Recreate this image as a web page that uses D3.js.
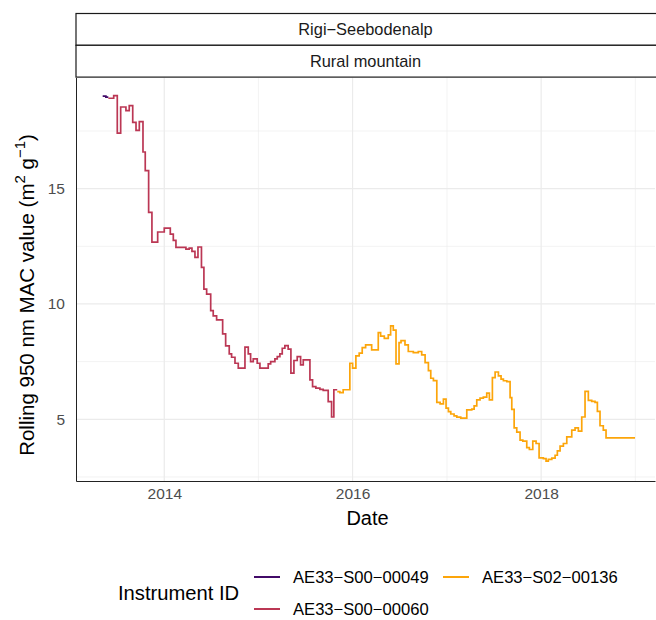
<!DOCTYPE html>
<html><head><meta charset="utf-8">
<script src="https://cdn.jsdelivr.net/npm/d3@7"></script>
<style>body{margin:0;background:#fff}svg{display:block;font-family:"Liberation Sans",Arial,sans-serif}</style>
</head><body><svg id="c" width="656" height="620"></svg>
<script>
// ---- data (decimal year of step start, value) ----
const s49Years = [2013.346, 2013.380];
const s49Values = [19.01, 18.97];
const s49End = 2013.406;

const s60Years = [2013.406,2013.463,2013.501,2013.537,2013.593,2013.628,2013.665,2013.700,2013.735,2013.774,2013.798,2013.834,2013.869,2013.930,2014.000,2014.064,2014.096,2014.124,2014.230,2014.265,2014.294,2014.326,2014.358,2014.395,2014.421,2014.450,2014.493,2014.520,2014.556,2014.620,2014.652,2014.690,2014.715,2014.751,2014.786,2014.857,2014.892,2014.917,2014.945,2014.987,2015.016,2015.104,2015.130,2015.175,2015.200,2015.228,2015.253,2015.281,2015.316,2015.345,2015.377,2015.412,2015.448,2015.476,2015.547,2015.575,2015.610,2015.653,2015.688,2015.741,2015.777,2015.801];
const s60Values = [18.92,19.03,17.41,18.54,18.38,18.60,17.87,17.53,17.91,16.59,15.78,13.97,12.68,13.12,13.29,13.03,12.76,12.45,12.38,12.42,12.28,12.02,12.47,11.59,10.64,10.43,9.71,9.48,9.31,8.70,8.18,7.84,7.69,7.43,7.22,8.13,7.84,7.50,7.62,7.43,7.22,7.40,7.50,7.62,7.72,7.84,8.08,8.19,8.04,7.00,7.55,7.72,7.36,7.58,6.71,6.42,6.35,6.30,6.25,5.77,5.10,6.28];
const s60End = 2015.837;

const s136Years = [2015.837,2015.865,2015.900,2015.971,2016.000,2016.035,2016.070,2016.102,2016.138,2016.202,2016.272,2016.297,2016.336,2016.378,2016.403,2016.431,2016.460,2016.492,2016.513,2016.555,2016.590,2016.643,2016.696,2016.732,2016.768,2016.803,2016.828,2016.856,2016.892,2016.927,2016.962,2016.990,2017.015,2017.040,2017.075,2017.104,2017.146,2017.210,2017.263,2017.288,2017.316,2017.351,2017.386,2017.422,2017.450,2017.482,2017.511,2017.546,2017.574,2017.599,2017.635,2017.670,2017.688,2017.713,2017.741,2017.776,2017.805,2017.847,2017.875,2017.911,2017.946,2017.978,2018.023,2018.052,2018.076,2018.113,2018.148,2018.172,2018.201,2018.236,2018.272,2018.325,2018.360,2018.395,2018.431,2018.466,2018.501,2018.537,2018.572,2018.597,2018.625,2018.660,2018.689];
const s136Values = [6.20,6.16,6.28,7.43,7.22,7.75,7.87,8.11,8.23,8.01,8.76,8.61,8.51,8.66,9.05,8.87,7.40,8.32,8.41,8.23,7.94,7.89,7.94,7.79,7.46,7.11,6.78,6.68,5.73,5.67,5.87,5.48,5.33,5.23,5.15,5.09,5.05,5.41,5.44,5.58,5.84,5.92,5.96,6.13,5.84,6.81,7.05,6.88,6.74,6.67,6.63,5.94,5.43,4.63,4.44,4.10,4.05,3.77,3.69,4.05,3.95,3.33,3.29,3.19,3.26,3.32,3.44,3.63,3.84,3.95,4.24,4.53,4.63,4.49,5.10,6.21,5.82,5.78,5.73,5.34,4.72,4.53,4.19];
const s136End = 2018.997;

const seriesNames = ["AE33\u2212S00\u221200049","AE33\u2212S00\u221200060","AE33\u2212S02\u221200136"];
const seriesColors = ["#420A68","#BB3754","#FCA50A"];
const yTicks = [5,10,15];
const yMinor = [2.5,7.5,12.5,17.5];
const xTickYears = [2014,2016,2018];
const xMinorYears = [2013,2015,2017,2019];
const stripLabels = ["Rigi\u2212Seebodenalp","Rural mountain"];

// ---- helpers ----
function dy(y){const Y=Math.floor(y);const s=Date.UTC(Y,0,1),e=Date.UTC(Y+1,0,1);return new Date(s+(y-Y)*(e-s));}
function build(years, vals, end){const p=years.map((y,i)=>({t:dy(y),v:vals[i]}));p.push({t:dy(end),v:vals[vals.length-1]});return p;}
const series=[build(s49Years,s49Values,s49End),build(s60Years,s60Values,s60End),build(s136Years,s136Values,s136End)];

const svg=d3.select("#c");
const L=76,R=655,T=77.5,B=481;
const x=d3.scaleUtc().domain([dy(2013.0626),dy(2019.209)]).range([L,R]);
const y=d3.scaleLinear().domain([2.324,19.82]).range([B,T]);

// grid
const g=svg.append("g");
g.selectAll(".ymin").data(yMinor).join("line").attr("x1",L).attr("x2",R).attr("y1",d=>y(d)).attr("y2",d=>y(d)).attr("stroke","#ebebeb").attr("stroke-width",0.6);
g.selectAll(".xmin").data(xMinorYears.filter(v=>x(dy(v))>=L&&x(dy(v))<=R)).join("line").attr("y1",T).attr("y2",B).attr("x1",d=>x(dy(d))).attr("x2",d=>x(dy(d))).attr("stroke","#ebebeb").attr("stroke-width",0.6);
g.selectAll(".ymaj").data(yTicks).join("line").attr("x1",L).attr("x2",R).attr("y1",d=>y(d)).attr("y2",d=>y(d)).attr("stroke","#ebebeb").attr("stroke-width",1.2);
g.selectAll(".xmaj").data(xTickYears).join("line").attr("y1",T).attr("y2",B).attr("x1",d=>x(dy(d))).attr("x2",d=>x(dy(d))).attr("stroke","#ebebeb").attr("stroke-width",1.2);

// lines
const line=d3.line().x(d=>x(d.t)).y(d=>y(d.v)).curve(d3.curveStepAfter);
series.forEach((s,i)=>{
  svg.append("path").datum(s).attr("d",line).attr("fill","none").attr("stroke",seriesColors[i]).attr("stroke-width",1.7).attr("stroke-linejoin","miter").attr("stroke-linecap","butt");
});

// axes
const yAx=svg.append("g").attr("transform",`translate(${L},0)`).call(d3.axisLeft(y).tickValues(yTicks).tickSize(0).tickPadding(11));
yAx.select(".domain").attr("stroke","#222").attr("stroke-width",1);
yAx.selectAll("text").attr("font-size",15.5).attr("fill","#4d4d4d").attr("font-family","Liberation Sans, Arial, sans-serif");
const xAx=svg.append("g").attr("transform",`translate(0,${B})`).call(d3.axisBottom(x).tickValues(xTickYears.map(dy)).tickFormat(d3.utcFormat("%Y")).tickSize(0).tickPadding(7));
xAx.select(".domain").attr("stroke","#222").attr("stroke-width",1);
xAx.selectAll("text").attr("font-size",15.5).attr("fill","#4d4d4d").attr("font-family","Liberation Sans, Arial, sans-serif");

// strips
const stripTops=[13.5,45.3];
stripLabels.forEach((lab,i)=>{
  const t=stripTops[i], h=31.8;
  svg.append("rect").attr("x",L).attr("y",t).attr("width",R-L+4).attr("height",h).attr("fill","#fff").attr("stroke","#1a1a1a").attr("stroke-width",1.2);
  svg.append("text").attr("x",(L+R)/2).attr("y",t+h/2).attr("dy","0.36em").attr("text-anchor","middle").attr("font-size",16.4).attr("fill","#1a1a1a").text(lab);
});

// axis titles
svg.append("text").attr("x",(L+R)/2+2).attr("y",525).attr("text-anchor","middle").attr("font-size",20).attr("fill","#000").text("Date");
const yt=svg.append("text").attr("transform","translate(33.5,295) rotate(-90)").attr("text-anchor","middle").attr("font-size",20.5).attr("fill","#000");
yt.append("tspan").text("Rolling 950 nm MAC value (m");
yt.append("tspan").attr("font-size",15).attr("dy",-8.5).text("2");
yt.append("tspan").attr("dy",8.5).text(" g");
yt.append("tspan").attr("font-size",15).attr("dy",-8.5).text("\u22121");
yt.append("tspan").attr("dy",8.5).text(")");

// legend
svg.append("text").attr("x",118).attr("y",600).attr("font-size",20.2).attr("fill","#000").text("Instrument ID");
const legPos=[[254,577],[254,609],[443,577]];
seriesNames.forEach((n,i)=>{
  const [lx,ly]=legPos[i];
  svg.append("line").attr("x1",lx).attr("x2",lx+26).attr("y1",ly).attr("y2",ly).attr("stroke",seriesColors[i]).attr("stroke-width",2);
  svg.append("text").attr("x",lx+39).attr("y",ly).attr("dy","0.36em").attr("font-size",16.6).attr("fill","#000").text(n);
});
</script></body></html>
